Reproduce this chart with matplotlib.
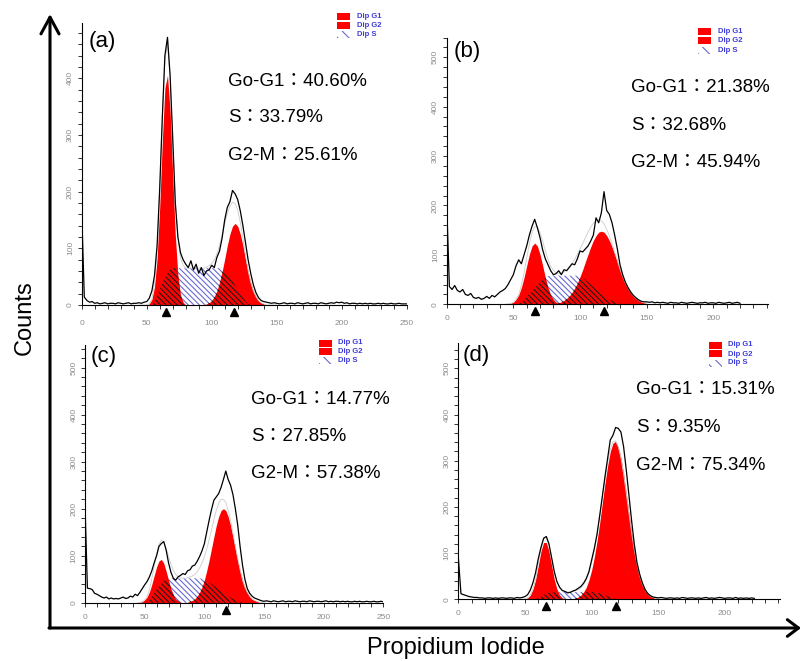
import numpy as np
import matplotlib
matplotlib.use("Agg")
import matplotlib.pyplot as plt
from matplotlib.patches import Rectangle, FancyArrowPatch
from matplotlib.transforms import ScaledTranslation

plt.rcParams['font.family'] = ['Liberation Sans', 'Noto Sans CJK TC', 'DejaVu Sans']
plt.rcParams['hatch.linewidth'] = 0.8

W, H = 803, 661

# histogram bins (PI channel) and the grid of the fitted model components
channels = np.arange(0, 252, 2)
comp_channels = np.arange(44, 152, 2)

phases = ["Go-G1", "S", "G2-M"]
legend_labels = ["Dip G1", "Dip G2", "Dip S"]

# ---------------- (a) ----------------
counts_a = [165, 14, 8, 5, 6, 3, 4, 2, 3, 4,
            2, 3, 3, 2, 4, 3, 2, 3, 4, 2,
            3, 3, 4, 3, 5, 6, 12, 25, 52, 105,
            205, 330, 440, 472, 405, 295, 180, 120, 92, 80,
            72, 66, 78, 62, 72, 56, 66, 52, 60, 62,
            70, 66, 84, 95, 118, 150, 172, 182, 202, 196,
            186, 166, 140, 110, 80, 56, 36, 22, 13, 8,
            6, 5, 4, 3, 4, 3, 2, 3, 4, 2,
            3, 3, 2, 4, 3, 2, 3, 4, 2, 3,
            3, 2, 4, 3, 2, 3, 4, 3, 5, 4,
            5, 3, 4, 2, 3, 3, 2, 3, 2, 3,
            2, 3, 2, 2, 3, 2, 3, 2, 2, 3,
            2, 2, 3, 2, 2, 2]
g1_a = [0, 0, 0, 0, 2, 10, 32, 82, 173, 288,
        383, 405, 342, 230, 123, 53, 18, 5, 0, 0,
        0, 0, 0, 0, 0, 0, 0, 0, 0, 0,
        0, 0, 0, 0, 0, 0, 0, 0, 0, 0,
        0, 0, 0, 0, 0, 0, 0, 0, 0, 0,
        0, 0, 0, 0]
g2_a = [0, 0, 0, 0, 0, 0, 0, 0, 0, 0,
        0, 0, 0, 0, 0, 0, 0, 0, 0, 0,
        0, 0, 0, 0, 0, 0, 2, 4, 8, 15,
        25, 40, 59, 81, 105, 125, 139, 144, 139, 125,
        105, 81, 59, 40, 25, 15, 8, 4, 2, 0,
        0, 0, 0, 0]
s_a = [0, 0, 0, 0, 0, 0, 6, 16, 27, 38,
       48, 56, 62, 65, 65, 65, 65, 65, 65, 65,
       65, 65, 65, 65, 65, 65, 65, 65, 65, 65,
       65, 65, 65, 62, 56, 49, 42, 35, 28, 21,
       14, 7, 2, 0, 0, 0, 0, 0, 0, 0,
       0, 0, 0, 0]
marks_a = [65, 117]
pct_a = ["40.60%", "33.79%", "25.61%"]

# ---------------- (b) ----------------
counts_b = [204, 36, 30, 38, 28, 25, 30, 20, 18, 22,
            14, 12, 14, 10, 12, 16, 12, 18, 15, 20,
            25, 28, 32, 40, 50, 60, 78, 90, 82, 100,
            118, 140, 158, 172, 155, 135, 110, 92, 80, 68,
            60, 62, 68, 60, 70, 68, 75, 82, 80, 92,
            108, 106, 112, 118, 128, 140, 175, 165, 185, 228,
            190, 182, 165, 140, 112, 80, 60, 45, 34, 25,
            18, 13, 9, 6, 5, 5, 4, 5, 3, 4,
            3, 4, 3, 2, 4, 3, 3, 2, 4, 3,
            2, 3, 4, 3, 2, 3, 3, 4, 2, 3,
            3, 2, 4, 3, 2, 3, 4, 2, 3, 4,
            2]
g1_b = [0, 1, 2, 4, 10, 19, 34, 54, 78, 101,
        118, 124, 118, 101, 78, 54, 34, 19, 10, 4,
        2, 0, 0, 0, 0, 0, 0, 0, 0, 0,
        0, 0, 0, 0, 0, 0, 0, 0, 0, 0,
        0, 0, 0, 0, 0, 0, 0, 0, 0, 0,
        0, 0, 0, 0]
g2_b = [0, 0, 0, 0, 0, 0, 0, 0, 0, 0,
        0, 0, 0, 0, 0, 0, 0, 0, 1, 2,
        3, 5, 8, 12, 17, 24, 33, 43, 56, 70,
        86, 101, 116, 129, 139, 146, 148, 146, 139, 129,
        116, 101, 86, 70, 56, 43, 33, 24, 17, 12,
        8, 5, 3, 2]
s_b = [0, 0, 0, 0, 0, 0, 4, 9, 15, 21,
       27, 33, 39, 45, 50, 54, 57, 58, 58, 58,
       58, 58, 58, 58, 58, 58, 58, 58, 56, 53,
       49, 45, 40, 35, 30, 25, 21, 17, 13, 10,
       7, 5, 3, 1, 0, 0, 0, 0, 0, 0,
       0, 0, 0, 0]
marks_b = [66, 118]
pct_b = ["21.38%", "32.68%", "45.94%"]

# ---------------- (c) ----------------
counts_c = [210, 31, 30, 28, 20, 18, 15, 12, 10, 12,
            8, 10, 8, 9, 8, 10, 12, 9, 10, 14,
            12, 18, 15, 22, 30, 38, 45, 55, 68, 85,
            100, 120, 126, 130, 112, 85, 65, 52, 48, 55,
            58, 62, 60, 68, 70, 78, 80, 88, 98, 110,
            125, 150, 175, 198, 218, 225, 232, 245, 262, 280,
            262, 250, 230, 200, 165, 119, 80, 50, 30, 20,
            14, 10, 8, 6, 4, 3, 4, 3, 2, 4,
            3, 2, 3, 4, 2, 3, 3, 2, 4, 3,
            2, 3, 3, 2, 4, 3, 2, 3, 3, 2,
            3, 4, 2, 3, 2, 3, 3, 2, 3, 2,
            3, 2, 2, 3, 2, 3, 2, 2, 3, 2,
            2, 3, 2, 2, 3, 2]
g1_c = [0, 1, 2, 6, 12, 23, 39, 58, 76, 89,
        92, 84, 67, 48, 30, 17, 8, 4, 1, 0,
        0, 0, 0, 0, 0, 0, 0, 0, 0, 0,
        0, 0, 0, 0, 0, 0, 0, 0, 0, 0,
        0, 0, 0, 0, 0, 0, 0, 0, 0, 0,
        0, 0, 0, 0]
g2_c = [0, 0, 0, 0, 0, 0, 0, 0, 0, 0,
        0, 0, 0, 0, 0, 0, 0, 0, 0, 0,
        0, 1, 3, 5, 8, 14, 22, 33, 48, 68,
        90, 115, 140, 164, 183, 196, 200, 196, 183, 164,
        140, 115, 90, 68, 48, 33, 22, 14, 8, 5,
        3, 1, 0, 0]
s_c = [0, 0, 0, 0, 0, 5, 12, 20, 28, 35,
       41, 46, 49, 51, 52, 52, 52, 52, 52, 52,
       52, 52, 52, 52, 52, 52, 52, 51, 49, 46,
       43, 40, 36, 32, 28, 24, 20, 17, 14, 11,
       8, 6, 4, 2, 0, 0, 0, 0, 0, 0,
       0, 0, 0, 0]
marks_c = [118]
pct_c = ["14.77%", "27.85%", "57.38%"]

# ---------------- (d) ----------------
counts_d = [92, 12, 10, 8, 6, 5, 4, 4, 3, 3,
            2, 3, 3, 2, 3, 2, 3, 3, 2, 3,
            3, 2, 4, 3, 4, 6, 10, 20, 36, 58,
            88, 112, 132, 136, 120, 90, 60, 38, 26, 19,
            17, 14, 15, 18, 20, 24, 28, 35, 45, 60,
            85, 110, 140, 180, 222, 265, 305, 345, 355, 372,
            370, 362, 330, 280, 225, 170, 120, 80, 55, 36,
            22, 13, 8, 5, 4, 3, 4, 3, 2, 3,
            3, 2, 3, 2, 4, 3, 2, 3, 3, 2,
            3, 2, 3, 4, 2, 3, 2, 3, 4, 3,
            2, 3, 3, 2, 4, 2, 3, 2, 3, 2,
            3, 2]
g1_d = [0, 0, 0, 1, 3, 9, 22, 43, 73, 104,
        123, 123, 104, 73, 43, 22, 9, 3, 1, 0,
        0, 0, 0, 0, 0, 0, 0, 0, 0, 0,
        0, 0, 0, 0, 0, 0, 0, 0, 0, 0,
        0, 0, 0, 0, 0, 0, 0, 0, 0, 0,
        0, 0, 0, 0]
g2_d = [0, 0, 0, 0, 0, 0, 0, 0, 0, 0,
        0, 0, 0, 0, 0, 0, 0, 0, 0, 0,
        0, 1, 3, 5, 9, 16, 26, 42, 63, 91,
        125, 164, 208, 250, 289, 320, 338, 342, 330, 306,
        271, 229, 186, 144, 107, 76, 51, 33, 21, 12,
        7, 4, 2, 1]
s_d = [0, 0, 0, 0, 0, 0, 0, 0, 3, 6,
       9, 12, 14, 15, 16, 16, 16, 16, 16, 16,
       16, 16, 16, 16, 16, 16, 16, 16, 16, 15,
       14, 13, 11, 9, 7, 5, 3, 1, 0, 0,
       0, 0, 0, 0, 0, 0, 0, 0, 0, 0,
       0, 0, 0, 0]
marks_d = [66, 118]
pct_d = ["15.31%", "9.35%", "75.34%"]

RED = '#ff0000'
BLUE_HATCH = '#6a6ad2'
LEG_BLUE = '#3c3cd6'
TICK_GRAY = '#8c8c8c'
HATCH = '\\' * 6


def fx(px):
    return px / W


def fy(py):
    return 1 - py / H


def draw_panel(box, xmax, ymax, counts, g1, g2, s, marks, xpad):
    left, top, right, bottom = box
    ax = fig.add_axes([fx(left), fy(bottom), (right - left) / W, (bottom - top) / H])
    g1 = np.array(g1, float)
    g2 = np.array(g2, float)
    s = np.array(s, float)
    red_top = np.maximum(g1, g2)

    # S phase (open hatch), then the G1/G2 peaks, then S again where it overlaps them
    ax.fill_between(comp_channels, red_top, s, where=s > red_top, interpolate=True,
                    facecolor='none', edgecolor=BLUE_HATCH, hatch=HATCH, linewidth=0)
    ax.fill_between(comp_channels, 0, g1, color=RED, linewidth=0)
    ax.fill_between(comp_channels, 0, g2, color=RED, linewidth=0)
    ax.fill_between(comp_channels, 0, np.minimum(s, red_top), facecolor='none',
                    edgecolor='#1a1a1a', hatch=HATCH, linewidth=0)
    ax.plot(comp_channels, g1 + g2 + s, color='#cccccc', lw=0.6)
    ax.plot(channels[:len(counts)], counts, color='black', lw=0.9)

    # peak position markers under the axis
    off = ScaledTranslation(0, -5 / 72, fig.dpi_scale_trans)
    ax.plot(marks, [0] * len(marks), marker='^', ls='none', color='black', ms=5.5,
            transform=ax.get_xaxis_transform() + off, clip_on=False)

    ax.set_xlim(0, xmax)
    ax.set_ylim(0, ymax)
    ax.patch.set_alpha(0)
    for sp in ['top', 'right']:
        ax.spines[sp].set_visible(False)
    for sp in ['left', 'bottom']:
        ax.spines[sp].set_linewidth(0.8)
    ax.set_xticks(np.arange(0, xmax + 1, 50))
    ax.set_xticks(np.arange(0, xmax + 1, 10), minor=True)
    ax.set_yticks(np.arange(0, ymax + 1, 100))
    ax.set_yticks(np.arange(0, ymax + 1, 20), minor=True)
    ax.tick_params(which='both', direction='out', length=3, width=0.7, color='#333333')
    ax.tick_params(axis='x', labelsize=6, labelcolor=TICK_GRAY, pad=xpad)
    ax.tick_params(axis='y', labelsize=6, labelcolor=TICK_GRAY, pad=2.5)
    for lab in ax.get_yticklabels():
        lab.set_rotation(90)
        lab.set_va('center')
    return ax


def draw_legend(x0, rows, tx):
    for i, (yc, lab) in enumerate(zip(rows, legend_labels)):
        if i < 2:
            r = Rectangle((fx(x0), fy(yc + 3.5)), 13 / W, 7 / H, transform=fig.transFigure,
                          facecolor=RED, edgecolor='none')
        else:
            r = Rectangle((fx(x0), fy(yc + 3.5)), 13 / W, 7 / H, transform=fig.transFigure,
                          facecolor='none', edgecolor=BLUE_HATCH, hatch='\\\\\\', linewidth=0)
        fig.add_artist(r)
        fig.text(fx(tx), fy(yc), lab, fontsize=5.5, color=LEG_BLUE, ha='left', va='center',
                 fontweight='bold')


fig = plt.figure(figsize=(W / 100, H / 100), dpi=100)

panels = [
    ((81.7, 23.2, 406.7, 305.0), 250, 497, counts_a, g1_a, g2_a, s_a, marks_a, 8,
     pct_a, "(a)", (102, 42), 228, [82, 118, 155], 337, [16, 25.5, 34.5], 357),
    ((446.7, 37.5, 768.0, 304.3), 241, 540, counts_b, g1_b, g2_b, s_b, marks_b, 5,
     pct_b, "(b)", (467, 51), 631.5, [88, 126, 162.5], 698, [31.5, 40.5, 50], 718),
    ((85.0, 345.1, 383.3, 602.7), 250, 548, counts_c, g1_c, g2_c, s_c, marks_c, 5,
     pct_c, "(c)", (104, 356), 251.5, [400, 436.5, 473], 319, [343, 351.5, 360], 338),
    ((458.3, 343.4, 779.6, 599.3), 241, 554, counts_d, g1_d, g2_d, s_d, marks_d, 5,
     pct_d, "(d)", (476, 355), 636, [390, 427, 465], 709, [345, 354, 363], 728),
]

for (box, xmax, ymax, counts, g1, g2, s, marks, xpad,
     pct, tag, tag_xy, tx, tys, lx, lrows, ltx) in panels:
    draw_panel(box, xmax, ymax, counts, g1, g2, s, marks, xpad)
    fig.text(fx(tag_xy[0]), fy(tag_xy[1]), tag, fontsize=16, ha='center', va='center')
    for name, val, ty in zip(phases, pct, tys):
        fig.text(fx(tx), fy(ty), name + "：" + val, fontsize=13.5, ha='left', va='center')
    draw_legend(lx, lrows, ltx)

# outer frame with axis arrows
fig.add_artist(FancyArrowPatch((fx(50), fy(628)), (fx(50), fy(14)), transform=fig.transFigure,
                               arrowstyle='->,head_length=12,head_width=6.5', mutation_scale=1,
                               lw=2.2, color='black', shrinkA=0, shrinkB=0))
fig.add_artist(FancyArrowPatch((fx(49), fy(628)), (fx(801), fy(628)), transform=fig.transFigure,
                               arrowstyle='->,head_length=8,head_width=6', mutation_scale=1,
                               lw=2.2, color='black', shrinkA=0, shrinkB=0))

fig.text(fx(25), fy(318), "Counts", fontsize=17, rotation=90, ha='center', va='center')
fig.text(fx(456), fy(648), "Propidium Iodide", fontsize=17, ha='center', va='center')

fig.savefig("out.png", dpi=100)
